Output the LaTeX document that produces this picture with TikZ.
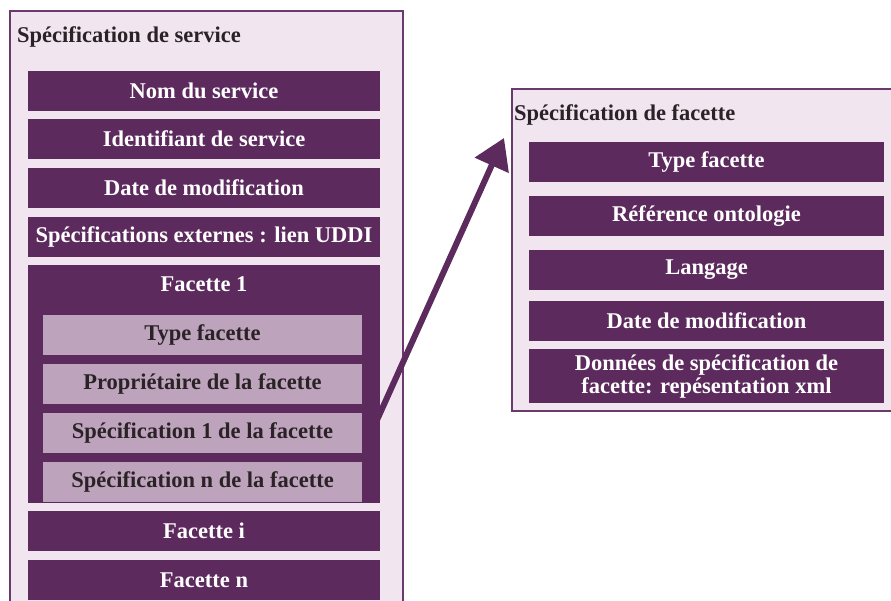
\documentclass[tikz,border=0pt]{standalone}
\usepackage{fontspec}
\setmainfont{Liberation Serif}
\usetikzlibrary{arrows.meta}
\definecolor{dpurple}{HTML}{5C2A5D}
\definecolor{lbg}{HTML}{F1E6EF}
\definecolor{lbar}{HTML}{BEA3BC}
\definecolor{bord}{HTML}{6A3A6C}
\definecolor{dtext}{HTML}{2A2226}
\tikzset{
  outerbox/.style={draw=bord, line width=2pt, fill=lbg},
  darkbar/.style={fill=dpurple, text=white, inner sep=0pt, align=center,
    font=\fontsize{22.5}{23}\selectfont\bfseries},
  lightbar/.style={fill=lbar, text=dtext, inner sep=0pt, align=center,
    minimum width=319pt, minimum height=40pt,
    font=\fontsize{22.5}{23}\selectfont\bfseries},
  lbarL/.style={darkbar, minimum width=352pt, minimum height=40pt},
  lbarR/.style={darkbar, minimum width=355pt, minimum height=40pt},
  titletext/.style={text=dtext, inner sep=0pt, font=\fontsize{22.5}{23}\selectfont\bfseries},
  bigarrow/.style={draw=dpurple, line width=6pt, -{Triangle[length=30pt,width=36pt]}}
}
\begin{document}
\begin{tikzpicture}[x=1pt,y=-1pt]
\useasboundingbox (0,0) rectangle (891,601);
\clip (0,0) rectangle (891,601);
% left box
\node[outerbox, minimum width=393pt, minimum height=640pt, anchor=north west, inner sep=0pt] (svc) at (9,10) {};
\node[titletext, anchor=base west] (svct) at (17,43) {Spécification de service};
\node[lbarL] (nom) at (204,91) {Nom du service};
\node[lbarL] (ident) at (204,139) {Identifiant de service};
\node[lbarL] (date) at (204,188) {Date de modification};
\node[lbarL] (ext) at (204,237) {Spécifications externes : lien UDDI};
\node[darkbar, minimum width=352pt, minimum height=238pt] (fac1) at (204,384) {};
\node[darkbar, anchor=base] (fac1t) at (204,292) {Facette 1};
\node[lightbar] (ftype) at (202.5,335) {Type facette};
\node[lightbar] (fprop) at (202.5,384) {Propriétaire de la facette};
\node[lightbar] (fspec1) at (202.5,433) {Spécification 1 de la facette};
\node[lightbar] (fspecn) at (202.5,482) {Spécification n de la facette};
\node[lbarL] (faci) at (204,531) {Facette i};
\node[lbarL] (facn) at (204,580) {Facette n};
% right box
\node[outerbox, minimum width=400pt, minimum height=322pt, anchor=north west, inner sep=0pt] (fsp) at (511,88) {};
\node[titletext, anchor=base west] (fspt) at (514,121) {Spécification de facette};
\node[lbarR] (rtype) at (706.5,162) {Type facette};
\node[lbarR] (rref) at (706.5,216) {Référence ontologie};
\node[lbarR] (rlang) at (706.5,270) {Langage};
\node[lbarR] (rdate) at (706.5,321) {Date de modification};
\node[darkbar, minimum width=355pt, minimum height=53pt] (rdata) at (706.5,376) {Données de spécification de\\facette: repésentation xml};
% arrow
\coordinate (astart) at (377,420);
\coordinate (aend) at (504,138);
\draw[bigarrow] (astart) -- (aend);
\end{tikzpicture}
\end{document}
